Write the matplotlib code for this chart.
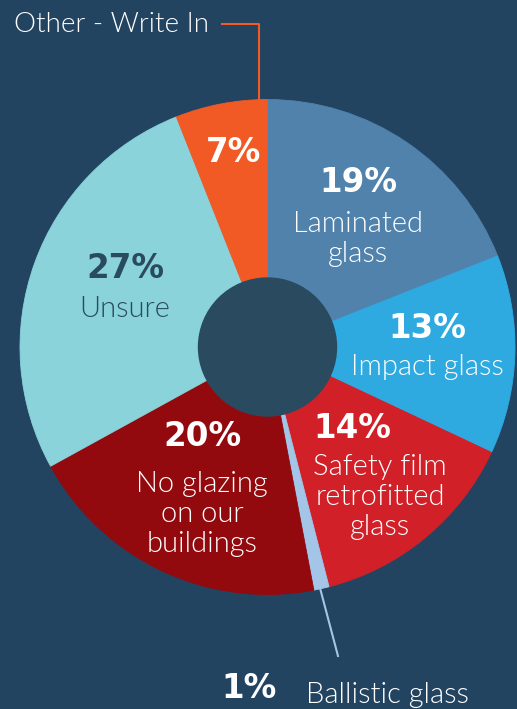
import matplotlib
matplotlib.use('Agg')
import matplotlib.pyplot as plt
from matplotlib.patches import Circle

# valores
categorias = ['Laminated\nglass', 'Impact glass', 'Safety film\nretrofitted\nglass',
              'Ballistic glass', 'No glazing\non our\nbuildings', 'Unsure', 'Other - Write In']
fatias = [19, 13, 14, 1, 20, 27, 6]
rotulos_pct = ['19%', '13%', '14%', '1%', '20%', '27%', '7%']
cores = ['#5082ac', '#2eaae1', '#d22028', '#a3c6e8', '#920a0e', '#8ad3db', '#f15a24']

fundo = '#234461'
furo = '#2a4a5f'
H = 709

def Y(y):
    # coordenada em pixels (de cima para baixo) -> dados
    return H - y

fig = plt.figure(figsize=(5.17, 7.09), dpi=100, facecolor=fundo)
ax = fig.add_axes([0, 0, 1, 1])
ax.set_facecolor(fundo)

cx, cy, raio = 267.5, Y(347), 247.5
wedges, _ = ax.pie(fatias, colors=cores, startangle=90, counterclock=False,
                   radius=raio, center=(cx, cy), wedgeprops=dict(linewidth=0.6))
for w in wedges:
    w.set_edgecolor(w.get_facecolor())
ax.add_patch(Circle((cx, cy), 69, color=furo, zorder=3))

ax.set_xlim(0, 517)
ax.set_ylim(0, H)
ax.set_aspect('equal')
ax.axis('off')

fonte_pct = dict(family=['DejaVu Sans'], weight='bold', fontsize=23.5)
fonte_txt = dict(family=['Lato', 'DejaVu Sans'], weight=300, fontsize=21)

# (x, y do percentual, y do texto) em pixels
pos = [(358, 182, 239), (427, 328, 367), (352, 428, 497), None,
       (202, 437, 514), (125, 268, 309), (233, 152, None)]
for i, p in enumerate(pos):
    if p is None:
        continue
    x, yp, yt = p
    cor = '#2a4a5f' if categorias[i] == 'Unsure' else 'white'
    ax.text(x, Y(yp), rotulos_pct[i], color=cor, ha='center', va='center', zorder=4, **fonte_pct)
    if yt is not None:
        xt = 380 if i == 2 else x
        ax.text(xt, Y(yt), categorias[i], color=cor, ha='center', va='center',
                linespacing=1.18, zorder=4, **fonte_txt)

# Ballistic glass, fora do anel
ax.plot([320, 338], [Y(588), Y(656)], color=cores[3], lw=1.5, zorder=2)
ax.text(249, Y(688), rotulos_pct[3], color='white', ha='center', va='center', **fonte_pct)
ax.text(306, Y(695), categorias[3], color='white', ha='left', va='center', **fonte_txt)

# Other - Write In, no topo
ax.plot([222, 259, 259], [Y(24), Y(24), Y(100)], color=cores[6], lw=1.5, zorder=2)
ax.text(14, Y(25), categorias[6], color='white', ha='left', va='center',
        **dict(fonte_txt, fontsize=20))

fig.savefig('out.png', dpi=100, facecolor=fundo)
